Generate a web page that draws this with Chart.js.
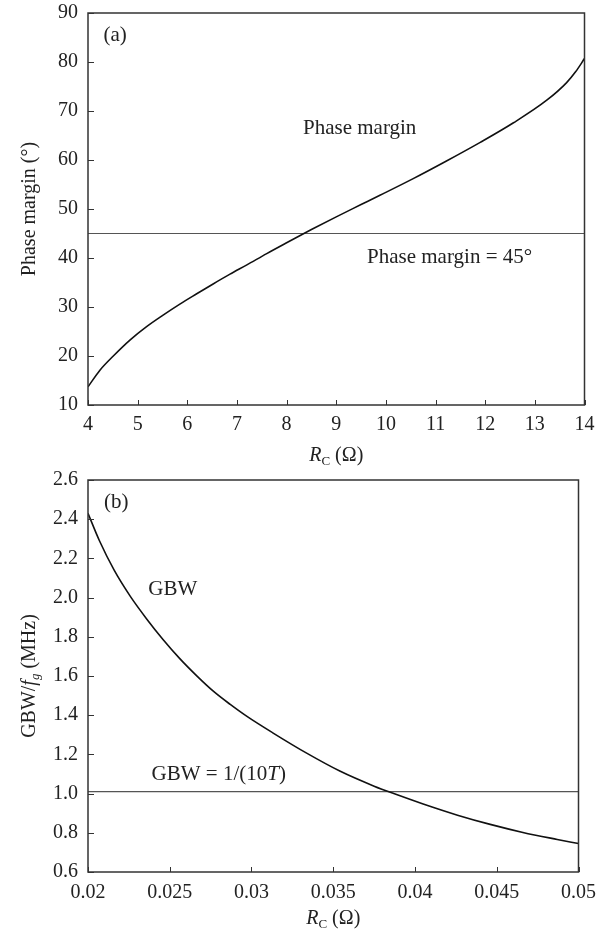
<!DOCTYPE html>
<html>
<head>
<meta charset="utf-8">
<script src="https://cdn.jsdelivr.net/npm/chart.js@4.4.1/dist/chart.umd.min.js"></script>
<style>
  html, body { margin: 0; padding: 0; background: #fff; }
  #wrap { position: relative; width: 609px; height: 935px; overflow: hidden; }
  canvas { position: absolute; left: 0; }
  #chartA { top: -9px; }
  #chartB { top: 458px; }
</style>
</head>
<body>
<div id="wrap">
  <canvas id="chartA" width="609" height="479"></canvas>
  <canvas id="chartB" width="609" height="477"></canvas>
</div>
<script>
// (a) phase margin against compensation resistor
const rcA = [4, 4.24, 4.51, 4.85, 5.18, 5.52, 5.85, 6.19, 6.52, 6.86, 7.2, 7.6, 8.0, 8.5, 9.0, 9.5, 9.88, 10.55, 11.22, 11.9, 12.57, 13.24, 13.64, 13.82, 14];
const phaseMargin = [13.7, 17.1, 20.0, 23.3, 26.0, 28.4, 30.6, 32.7, 34.7, 36.7, 38.6, 40.9, 43.1, 45.8, 48.4, 50.9, 52.8, 56.2, 59.8, 63.6, 67.6, 72.2, 75.8, 78.0, 80.7];
const pmLimit = 45;

// (b) gain-bandwidth against compensation resistor
const rcB = [0.0200, 0.0207, 0.0216, 0.0226, 0.0236, 0.0246, 0.0256, 0.0267, 0.0277, 0.0287, 0.0297, 0.0313, 0.0334, 0.0354, 0.0375, 0.0387, 0.0405, 0.0426, 0.0446, 0.0466, 0.0487, 0.0500];
const gbw = [2.43, 2.29, 2.14, 2.005, 1.89, 1.785, 1.69, 1.597, 1.52, 1.455, 1.395, 1.31, 1.205, 1.115, 1.038, 1.0, 0.947, 0.89, 0.843, 0.802, 0.766, 0.745];
const gbwLimit = 1.01;

const SERIF = '"Liberation Serif", "DejaVu Serif", serif';
const INK = '#222';

// draw a run of text pieces (italic / subscript) centred on cx,cy
function drawRich(ctx, parts, cx, cy, angle) {
  const size = 20, subSize = 13;
  const fontOf = p => (p.italic ? 'italic ' : '') + (p.sub ? subSize : size) + 'px ' + SERIF;
  let total = 0;
  parts.forEach(p => { ctx.font = fontOf(p); total += ctx.measureText(p.t).width; });
  ctx.save();
  ctx.translate(cx, cy);
  ctx.rotate(angle || 0);
  ctx.fillStyle = INK;
  ctx.textBaseline = 'middle';
  ctx.textAlign = 'left';
  let x = -total / 2;
  parts.forEach(p => {
    ctx.font = fontOf(p);
    ctx.fillText(p.t, x, p.sub ? 6 : 0);
    x += ctx.measureText(p.t).width;
  });
  ctx.restore();
}

// closed frame, inward ticks, axis titles and in-plot notes
const decor = {
  id: 'decor',
  afterDatasetsDraw(chart, args, opts) {
    const { ctx, chartArea: a, scales: { x, y } } = chart;
    ctx.save();
    ctx.strokeStyle = '#333';
    ctx.lineWidth = 1.5;
    ctx.strokeRect(a.left, a.top, a.right - a.left, a.bottom - a.top);
    ctx.lineWidth = 1;
    ctx.beginPath();
    x.ticks.forEach(t => {
      const px = Math.round(x.getPixelForValue(t.value)) + 0.5;
      ctx.moveTo(px, a.bottom);
      ctx.lineTo(px, a.bottom - 5);
    });
    y.ticks.forEach(t => {
      const py = Math.round(y.getPixelForValue(t.value)) + 0.5;
      ctx.moveTo(a.left, py);
      ctx.lineTo(a.left + 6, py);
    });
    ctx.stroke();

    drawRich(ctx, opts.xTitle, (a.left + a.right) / 2, a.bottom + opts.xTitleGap);
    drawRich(ctx, opts.yTitle, 30, (a.top + a.bottom) / 2, -Math.PI / 2);

    ctx.fillStyle = INK;
    ctx.textBaseline = 'middle';
    ctx.textAlign = 'left';
    opts.notes.forEach(n => {
      let px = x.getPixelForValue(n.x);
      const py = y.getPixelForValue(n.y);
      n.parts.forEach(p => {
        ctx.font = (p.italic ? 'italic ' : '') + '21px ' + SERIF;
        ctx.fillText(p.t, px, py);
        px += ctx.measureText(p.t).width;
      });
    });
    ctx.restore();
  }
};

function tickFont() {
  return { family: SERIF, size: 20 };
}

function makeChart(id, xs, ys, limit, cfg) {
  return new Chart(document.getElementById(id), {
    type: 'line',
    data: {
      datasets: [{
        data: xs.map((v, i) => ({ x: v, y: ys[i] })),
        borderColor: '#111',
        borderWidth: 1.6,
        pointRadius: 0,
        cubicInterpolationMode: 'monotone',
        fill: false
      }, {
        data: [{ x: cfg.xMin, y: limit }, { x: cfg.xMax, y: limit }],
        borderColor: '#555',
        borderWidth: 1.2,
        pointRadius: 0,
        fill: false
      }]
    },
    options: {
      responsive: false,
      animation: false,
      devicePixelRatio: 1,
      layout: { padding: { left: 0, right: cfg.padRight, top: 0, bottom: 0 } },
      plugins: {
        legend: { display: false },
        tooltip: { enabled: false },
        decor: { xTitle: cfg.xTitle, yTitle: cfg.yTitle, xTitleGap: cfg.xTitleGap, notes: cfg.notes }
      },
      scales: {
        x: {
          type: 'linear',
          min: cfg.xMin, max: cfg.xMax,
          afterFit: s => { s.height = cfg.xAxisH; },
          grid: { display: false, drawTicks: false },
          border: { display: false },
          ticks: {
            stepSize: cfg.xStep, autoSkip: false, maxRotation: 0, padding: cfg.xTickPad,
            color: INK, font: tickFont(),
            callback: v => String(Number(v.toFixed(3)))
          }
        },
        y: {
          min: cfg.yMin, max: cfg.yMax,
          afterFit: s => { s.width = 88; },
          grid: { display: false, drawTicks: false },
          border: { display: false },
          ticks: {
            stepSize: cfg.yStep, autoSkip: false, padding: 10,
            color: INK, font: tickFont(),
            callback: v => cfg.yFmt(v)
          }
        }
      }
    },
    plugins: [decor]
  });
}

makeChart('chartA', rcA, phaseMargin, pmLimit, {
  xMin: 4, xMax: 14, xStep: 1,
  yMin: 10, yMax: 90, yStep: 10,
  yFmt: v => String(Math.round(v)),
  padRight: 24.5, xAxisH: 65, xTitleGap: 51, xTickPad: 8,
  xTitle: [{ t: 'R', italic: true }, { t: 'C', sub: true }, { t: ' (Ω)' }],
  yTitle: [{ t: 'Phase margin (°)' }],
  notes: [
    { x: 4.31, y: 85.5, parts: [{ t: '(a)' }] },
    { x: 8.33, y: 66.5, parts: [{ t: 'Phase margin' }] },
    { x: 9.62, y: 40.2, parts: [{ t: 'Phase margin = 45°' }] }
  ]
});

makeChart('chartB', rcB, gbw, gbwLimit, {
  xMin: 0.02, xMax: 0.05, xStep: 0.005,
  yMin: 0.6, yMax: 2.6, yStep: 0.2,
  yFmt: v => v.toFixed(1),
  padRight: 30.5, xAxisH: 63, xTitleGap: 47, xTickPad: 9,
  xTitle: [{ t: 'R', italic: true }, { t: 'C', sub: true }, { t: ' (Ω)' }],
  yTitle: [{ t: 'GBW/' }, { t: 'f', italic: true }, { t: 'g', sub: true, italic: true }, { t: ' (MHz)' }],
  notes: [
    { x: 0.02098, y: 2.483, parts: [{ t: '(b)' }] },
    { x: 0.02369, y: 2.039, parts: [{ t: 'GBW' }] },
    { x: 0.02389, y: 1.095, parts: [{ t: 'GBW = 1/(10' }, { t: 'T', italic: true }, { t: ')' }] }
  ]
});
</script>
</body>
</html>
